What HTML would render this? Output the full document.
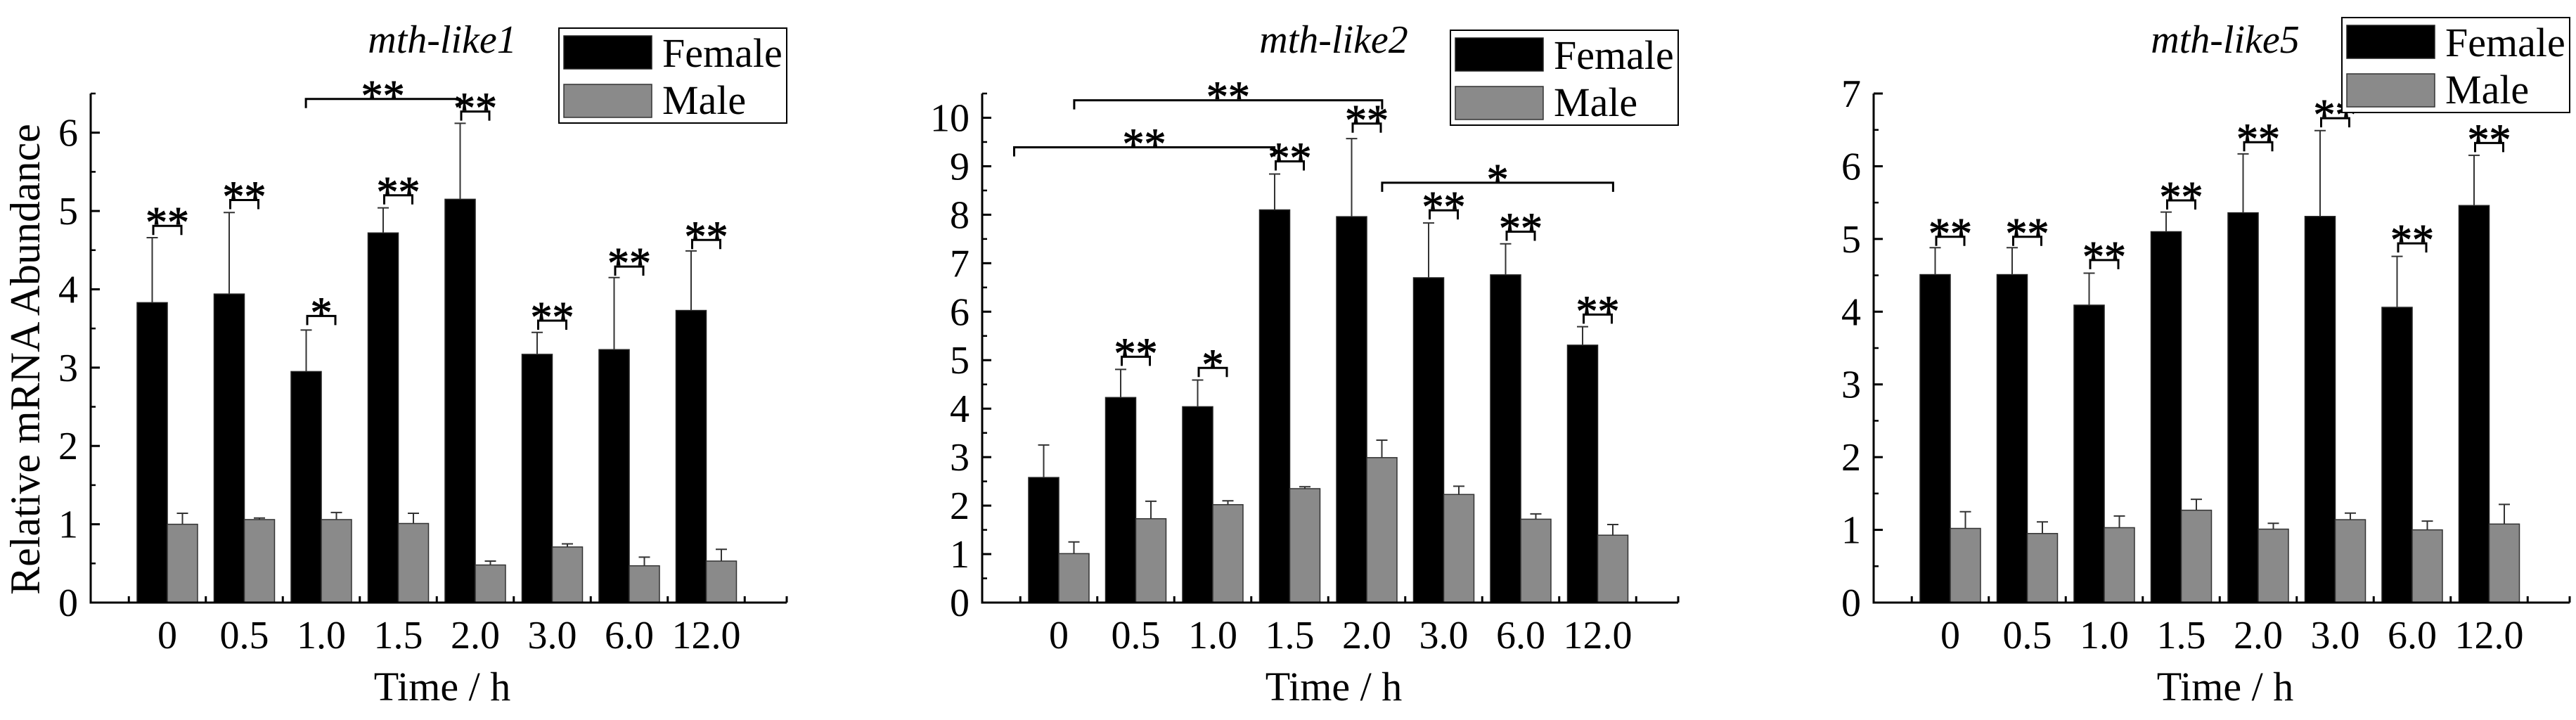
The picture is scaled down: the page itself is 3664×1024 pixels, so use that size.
<!DOCTYPE html>
<html><head><meta charset="utf-8">
<style>
html,body{margin:0;padding:0;background:#fff;}
svg{display:block;font-family:"Liberation Serif",serif;}
</style></head>
<body>
<svg id="fig" width="3664" height="1024" viewBox="0 0 3664 1024" xmlns="http://www.w3.org/2000/svg"></svg>
<script>
const categories = ["0","0.5","1.0","1.5","2.0","3.0","6.0","12.0"];
const titles = ["mth-like1","mth-like2","mth-like5"];
const yMax = [6.5, 10.5, 7];
const yTicks1 = [0,1,2,3,4,5,6];
const yTicks2 = [0,1,2,3,4,5,6,7,8,9,10];
const yTicks3 = [0,1,2,3,4,5,6,7];
const female1 = [3.83,3.94,2.95,4.72,5.15,3.17,3.23,3.73];
const femaleErr1 = [4.66,4.98,3.48,5.04,6.12,3.45,4.15,4.49];
const male1 = [1.00,1.06,1.06,1.01,0.48,0.71,0.47,0.53];
const maleErr1 = [1.14,1.08,1.15,1.14,0.53,0.75,0.58,0.68];
const sig1 = ["**","**","*","**","**","**","**","**"];
const sigY1 = [4.81,5.14,3.66,5.20,6.27,3.60,4.29,4.63];
const female2 = [2.58,4.23,4.04,8.10,7.96,6.70,6.76,5.31];
const femaleErr2 = [3.25,4.81,4.59,8.84,9.57,7.83,7.40,5.69];
const male2 = [1.01,1.73,2.02,2.35,2.99,2.23,1.72,1.39];
const maleErr2 = [1.25,2.09,2.10,2.39,3.35,2.40,1.83,1.61];
const sig2 = ["","**","*","**","**","**","**","**"];
const sigY2 = [0,5.07,4.84,9.10,9.88,8.09,7.65,5.94];
const female3 = [4.51,4.51,4.09,5.10,5.36,5.31,4.06,5.46];
const femaleErr3 = [4.88,4.88,4.53,5.37,6.17,6.49,4.76,6.15];
const male3 = [1.02,0.95,1.03,1.27,1.01,1.14,1.00,1.08];
const maleErr3 = [1.25,1.11,1.19,1.42,1.09,1.23,1.12,1.35];
const sig3 = ["**","**","**","**","**","**","**","**"];
const sigY3 = [5.03,5.03,4.71,5.53,6.33,6.66,4.94,6.32];
// long brackets: [fromGroupPos, toGroupPos, value, label]
const long1 = [[1.8,3.8,6.43,"**"]];
const long2 = [[-0.58,2.8,9.39,"**"],[0.2,4.2,10.36,"**"],[4.2,7.2,8.66,"*"]];
const long3 = [];

const svg = document.getElementById('fig');
const NS = "http://www.w3.org/2000/svg";
function mk(tag, attrs, parent){
  const e = document.createElementNS(NS, tag);
  for (const k in attrs) e.setAttribute(k, attrs[k]);
  (parent||svg).appendChild(e);
  return e;
}
const panels = [
  {ax:129, ticks:yTicks1, f:female1, fe:femaleErr1, m:male1, me:maleErr1, sig:sig1, sigY:sigY1, long:long1, legTop:40},
  {ax:1397, ticks:yTicks2, f:female2, fe:femaleErr2, m:male2, me:maleErr2, sig:sig2, sigY:sigY2, long:long2, legTop:43},
  {ax:2665, ticks:yTicks3, f:female3, fe:femaleErr3, m:male3, me:maleErr3, sig:sig3, sigY:sigY3, long:long3, legTop:25}
];
const Y0 = 857, TOP = 133, GAP = 109.5, BW = 43;
panels.forEach((p, pi) => {
  const g = mk('g', {});
  
  
  const unit = (Y0 - TOP) / yMax[pi];
  const y = v => Y0 - v * unit;
  const gx = i => p.ax + 109 + i * GAP;
  for (let i = 0; i < categories.length; i++) {
    const c = gx(i);
    const fb = mk('rect', {x:c-BW, y:y(p.f[i]), width:BW, height:Y0-y(p.f[i]), fill:'#000', stroke:'#222', 'stroke-width':1.5}, g);
    
    
    const mb = mk('rect', {x:c, y:y(p.m[i]), width:BW, height:Y0-y(p.m[i]), fill:'#8a8a8a', stroke:'#333', 'stroke-width':1.5}, g);
    
    
    [[c-BW/2, p.f[i], p.fe[i]], [c+BW/2, p.m[i], p.me[i]]].forEach(([x, v, t]) => {
      const eb = mk('path', {d:`M${x},${y(v)}V${y(t)}M${x-8},${y(t)}H${x+8}`, stroke:'#333', 'stroke-width':2, fill:'none'}, g);
      
      
    });
    if (p.sig[i]) {
      const by = y(p.sigY[i]);
      const x1 = c - 20, x2 = c + 20;
      const br = mk('path', {d:`M${x1},${by+13}V${by}H${x2}V${by+13}`, stroke:'#000', 'stroke-width':3, fill:'none'}, g);
      
      
      const st = mk('text', {x:c, y:by+16, 'font-size':62, 'text-anchor':'middle', stroke:'#000', 'stroke-width':1}, g);
      st.textContent = p.sig[i];
      
      
    }
  }
  p.long.forEach(L => {
    const x1 = gx(L[0]), x2 = gx(L[1]), by = y(L[2]);
    const br = mk('path', {d:`M${x1},${by+13}V${by}H${x2}V${by+13}`, stroke:'#000', 'stroke-width':3, fill:'none'}, g);
    
    
    const st = mk('text', {x:(x1+x2)/2, y:by+16, 'font-size':62, 'text-anchor':'middle', stroke:'#000', 'stroke-width':1}, g);
    st.textContent = L[3];
    
    
  });
  const axR = p.ax + 990;
  const axes = mk('path', {d:`M${p.ax},${TOP}V${Y0}H${axR}`, stroke:'#000', 'stroke-width':3, fill:'none'}, g);
  
  
  for (let k = 0; k <= categories.length; k++) {
    const tx = gx(k) - GAP/2;
    mk('line', {x1:tx, x2:tx, y1:Y0, y2:Y0-9, stroke:'#000', 'stroke-width':3}, g);
  }
  mk('line', {x1:axR, x2:axR, y1:Y0, y2:Y0-9, stroke:'#000', 'stroke-width':3}, g);
  p.ticks.forEach(v => {
    mk('line', {x1:p.ax, x2:p.ax+13, y1:y(v), y2:y(v), stroke:'#000', 'stroke-width':3}, g);
    if (v + 0.5 <= yMax[pi]) mk('line', {x1:p.ax, x2:p.ax+7, y1:y(v+0.5), y2:y(v+0.5), stroke:'#000', 'stroke-width':2.5}, g);
    const t = mk('text', {x:p.ax-18, y:y(v)+19, 'font-size':56, 'text-anchor':'end'}, g);
    t.textContent = v;
    
    
  });
  categories.forEach((cName, i) => {
    const t = mk('text', {x:gx(i), y:922, 'font-size':56, 'text-anchor':'middle'}, g);
    t.textContent = cName;
    
    
  });
  const xt = mk('text', {x:p.ax+500, y:996, 'font-size':58, 'text-anchor':'middle'}, g);
  xt.textContent = 'Time / h';
  
  
  const tt = mk('text', {x:p.ax+500, y:75, 'font-size':56, 'font-style':'italic', 'text-anchor':'middle'}, g);
  tt.textContent = titles[pi];
  
  
  const lx = p.ax + 666, ly = p.legTop;
  const lg = mk('g', {}, g);
  
  
  mk('rect', {x:lx, y:ly, width:324, height:135, fill:'#fff', stroke:'#000', 'stroke-width':2}, lg);
  mk('rect', {x:lx+7, y:ly+11, width:125, height:47, fill:'#000', stroke:'#222', 'stroke-width':1.5}, lg);
  mk('rect', {x:lx+7, y:ly+80, width:125, height:47, fill:'#8a8a8a', stroke:'#333', 'stroke-width':1.5}, lg);
  const t1 = mk('text', {x:lx+147, y:ly+55, 'font-size':58}, lg);
  t1.textContent = 'Female';
  
  
  const t2 = mk('text', {x:lx+147, y:ly+122, 'font-size':58}, lg);
  t2.textContent = 'Male';
  
  
});
const yt = mk('text', {x:0, y:0, 'font-size':60, 'text-anchor':'middle', transform:'translate(56,511) rotate(-90)'});
yt.textContent = 'Relative mRNA Abundance';


</script>
</body></html>
